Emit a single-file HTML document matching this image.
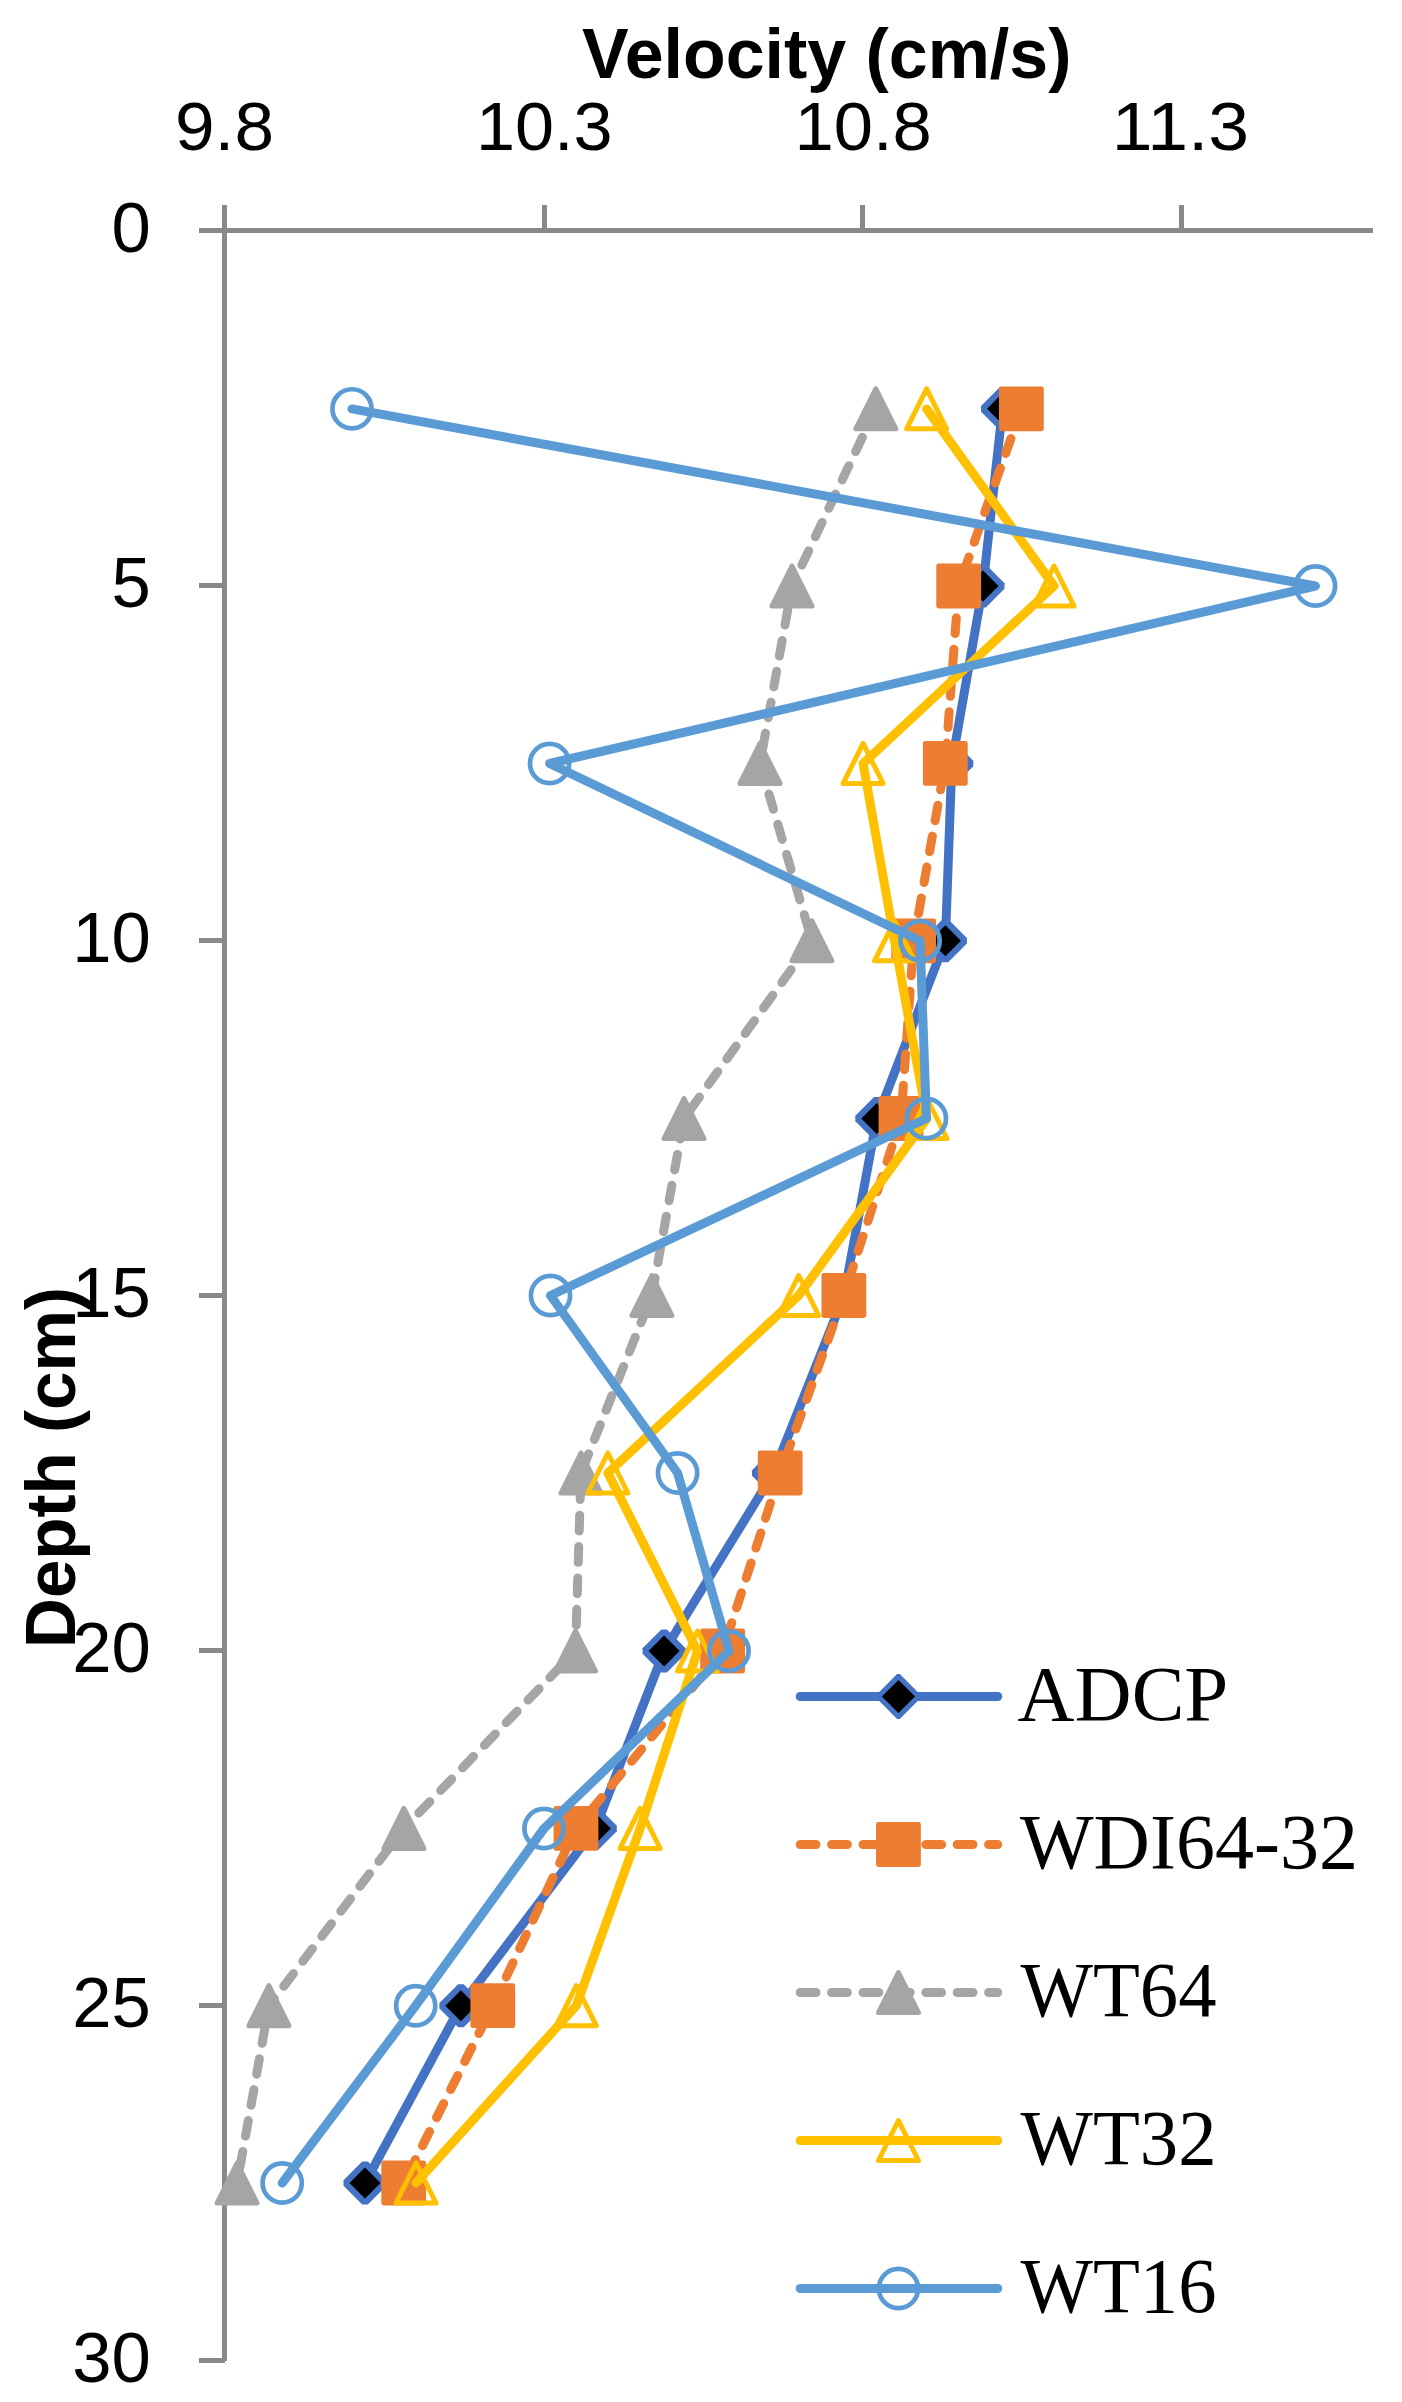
<!DOCTYPE html>
<html lang="en"><head><meta charset="utf-8"><title>Velocity vs Depth</title>
<style>
html,body{margin:0;padding:0;background:#fff}
svg{display:block}
.t{font-family:"Liberation Sans",Arial,sans-serif;fill:#000}
.b{font-family:"Liberation Sans",Arial,sans-serif;font-weight:bold;fill:#000}
.s{font-family:"Liberation Serif","Times New Roman",serif;fill:#000}
</style></head><body>
<svg width="1402" height="2402" viewBox="0 0 1402 2402">
<rect width="1402" height="2402" fill="#fff"/>
<g fill="#898989" shape-rendering="crispEdges">
<rect x="199" y="228" width="1174" height="5"/>
<rect x="222" y="205" width="5" height="2156"/>
<rect x="542" y="205" width="5" height="25"/>
<rect x="860" y="205" width="5" height="25"/>
<rect x="1179" y="205" width="5" height="25"/>
<rect x="199" y="583" width="26" height="5"/>
<rect x="199" y="938" width="26" height="5"/>
<rect x="199" y="1293" width="26" height="5"/>
<rect x="199" y="1648" width="26" height="5"/>
<rect x="199" y="2003" width="26" height="5"/>
<rect x="199" y="2358" width="26" height="5"/>
</g>
<text class="b" x="826.7" y="78" font-size="71" text-anchor="middle" textLength="489.5" lengthAdjust="spacingAndGlyphs">Velocity (cm/s)</text>
<text class="t" x="224.5" y="150" font-size="68.5" text-anchor="middle" textLength="99.0" lengthAdjust="spacingAndGlyphs">9.8</text>
<text class="t" x="544.2" y="150" font-size="68.5" text-anchor="middle" textLength="136.6" lengthAdjust="spacingAndGlyphs">10.3</text>
<text class="t" x="863.2" y="150" font-size="68.5" text-anchor="middle" textLength="137.3" lengthAdjust="spacingAndGlyphs">10.8</text>
<text class="t" x="1180.5" y="150" font-size="68.5" text-anchor="middle" textLength="137.3" lengthAdjust="spacingAndGlyphs">11.3</text>
<text class="t" x="150.8" y="252.4" font-size="70.3" text-anchor="end" textLength="39.3" lengthAdjust="spacingAndGlyphs">0</text>
<text class="t" x="150.8" y="607.4" font-size="70.3" text-anchor="end" textLength="39.3" lengthAdjust="spacingAndGlyphs">5</text>
<text class="t" x="150.8" y="962.4" font-size="70.3" text-anchor="end" textLength="78.6" lengthAdjust="spacingAndGlyphs">10</text>
<text class="t" x="150.8" y="1317.4" font-size="70.3" text-anchor="end" textLength="78.6" lengthAdjust="spacingAndGlyphs">15</text>
<text class="t" x="150.8" y="1672.4" font-size="70.3" text-anchor="end" textLength="78.6" lengthAdjust="spacingAndGlyphs">20</text>
<text class="t" x="150.8" y="2027.4" font-size="70.3" text-anchor="end" textLength="78.6" lengthAdjust="spacingAndGlyphs">25</text>
<text class="t" x="150.8" y="2382.4" font-size="70.3" text-anchor="end" textLength="78.6" lengthAdjust="spacingAndGlyphs">30</text>
<text class="b" transform="translate(75 1467.5) rotate(-90)" font-size="71" text-anchor="middle" textLength="361" lengthAdjust="spacingAndGlyphs">Depth (cm)</text>
<g id="ADCP">
<path d="M1002.5 408.9L983.0 586.0L951.8 763.5L945.4 940.8L876.8 1118.5L844.0 1295.5L773.5 1473.0L664.1 1651.0L595.3 1828.5L460.9 2005.7L365.0 2183.0" fill="none" stroke="#4472C4" stroke-width="9" stroke-linecap="round" stroke-linejoin="round"/>
<polygon points="981.00,406.05 999.70,387.35 1005.30,387.35 1024.00,406.05 1024.00,411.65 1005.30,430.35 999.70,430.35 981.00,411.65" fill="#4472C4"/><path d="M1002.50 393.35L1018.00 408.85L1002.50 424.35L987.00 408.85Z" fill="#000"/>
<polygon points="961.50,583.20 980.20,564.50 985.80,564.50 1004.50,583.20 1004.50,588.80 985.80,607.50 980.20,607.50 961.50,588.80" fill="#4472C4"/><path d="M983.00 570.50L998.50 586.00L983.00 601.50L967.50 586.00Z" fill="#000"/>
<polygon points="930.30,760.65 949.00,741.95 954.60,741.95 973.30,760.65 973.30,766.25 954.60,784.95 949.00,784.95 930.30,766.25" fill="#4472C4"/><path d="M951.80 747.95L967.30 763.45L951.80 778.95L936.30 763.45Z" fill="#000"/>
<polygon points="923.90,938.00 942.60,919.30 948.20,919.30 966.90,938.00 966.90,943.60 948.20,962.30 942.60,962.30 923.90,943.60" fill="#4472C4"/><path d="M945.40 925.30L960.90 940.80L945.40 956.30L929.90 940.80Z" fill="#000"/>
<polygon points="855.30,1115.70 874.00,1097.00 879.60,1097.00 898.30,1115.70 898.30,1121.30 879.60,1140.00 874.00,1140.00 855.30,1121.30" fill="#4472C4"/><path d="M876.80 1103.00L892.30 1118.50L876.80 1134.00L861.30 1118.50Z" fill="#000"/>
<polygon points="822.50,1292.70 841.20,1274.00 846.80,1274.00 865.50,1292.70 865.50,1298.30 846.80,1317.00 841.20,1317.00 822.50,1298.30" fill="#4472C4"/><path d="M844.00 1280.00L859.50 1295.50L844.00 1311.00L828.50 1295.50Z" fill="#000"/>
<polygon points="752.00,1470.20 770.70,1451.50 776.30,1451.50 795.00,1470.20 795.00,1475.80 776.30,1494.50 770.70,1494.50 752.00,1475.80" fill="#4472C4"/><path d="M773.50 1457.50L789.00 1473.00L773.50 1488.50L758.00 1473.00Z" fill="#000"/>
<polygon points="642.60,1648.20 661.30,1629.50 666.90,1629.50 685.60,1648.20 685.60,1653.80 666.90,1672.50 661.30,1672.50 642.60,1653.80" fill="#4472C4"/><path d="M664.10 1635.50L679.60 1651.00L664.10 1666.50L648.60 1651.00Z" fill="#000"/>
<polygon points="573.80,1825.65 592.50,1806.95 598.10,1806.95 616.80,1825.65 616.80,1831.25 598.10,1849.95 592.50,1849.95 573.80,1831.25" fill="#4472C4"/><path d="M595.30 1812.95L610.80 1828.45L595.30 1843.95L579.80 1828.45Z" fill="#000"/>
<polygon points="439.40,2002.90 458.10,1984.20 463.70,1984.20 482.40,2002.90 482.40,2008.50 463.70,2027.20 458.10,2027.20 439.40,2008.50" fill="#4472C4"/><path d="M460.90 1990.20L476.40 2005.70L460.90 2021.20L445.40 2005.70Z" fill="#000"/>
<polygon points="343.50,2180.20 362.20,2161.50 367.80,2161.50 386.50,2180.20 386.50,2185.80 367.80,2204.50 362.20,2204.50 343.50,2185.80" fill="#4472C4"/><path d="M365.00 2167.50L380.50 2183.00L365.00 2198.50L349.50 2183.00Z" fill="#000"/>
</g>
<g id="WDI">
<path d="M1021.4 408.9L958.7 586.0L945.3 763.5L913.7 940.8L901.0 1118.5L843.9 1295.5L780.2 1473.0L722.6 1651.0L576.0 1828.5L492.8 2005.7L403.7 2183.0" fill="none" stroke="#ED7D31" stroke-width="9" stroke-linecap="round" stroke-linejoin="round" stroke-dasharray="15.8 15.6"/>
<rect x="1001.40" y="388.85" width="40.0" height="40.0" fill="#ED7D31" stroke="#ED7D31" stroke-width="4.8" stroke-linejoin="round"/>
<rect x="938.70" y="566.00" width="40.0" height="40.0" fill="#ED7D31" stroke="#ED7D31" stroke-width="4.8" stroke-linejoin="round"/>
<rect x="925.30" y="743.45" width="40.0" height="40.0" fill="#ED7D31" stroke="#ED7D31" stroke-width="4.8" stroke-linejoin="round"/>
<rect x="893.70" y="920.80" width="40.0" height="40.0" fill="#ED7D31" stroke="#ED7D31" stroke-width="4.8" stroke-linejoin="round"/>
<rect x="881.00" y="1098.50" width="40.0" height="40.0" fill="#ED7D31" stroke="#ED7D31" stroke-width="4.8" stroke-linejoin="round"/>
<rect x="823.90" y="1275.50" width="40.0" height="40.0" fill="#ED7D31" stroke="#ED7D31" stroke-width="4.8" stroke-linejoin="round"/>
<rect x="760.20" y="1453.00" width="40.0" height="40.0" fill="#ED7D31" stroke="#ED7D31" stroke-width="4.8" stroke-linejoin="round"/>
<rect x="702.60" y="1631.00" width="40.0" height="40.0" fill="#ED7D31" stroke="#ED7D31" stroke-width="4.8" stroke-linejoin="round"/>
<rect x="556.00" y="1808.45" width="40.0" height="40.0" fill="#ED7D31" stroke="#ED7D31" stroke-width="4.8" stroke-linejoin="round"/>
<rect x="472.80" y="1985.70" width="40.0" height="40.0" fill="#ED7D31" stroke="#ED7D31" stroke-width="4.8" stroke-linejoin="round"/>
<rect x="383.70" y="2163.00" width="40.0" height="40.0" fill="#ED7D31" stroke="#ED7D31" stroke-width="4.8" stroke-linejoin="round"/>
</g>
<g id="WT64">
<path d="M875.8 408.9L792.0 586.0L760.0 763.5L811.9 940.8L684.0 1118.5L651.9 1295.5L581.0 1473.0L575.5 1651.0L403.9 1828.5L268.9 2005.7L237.1 2183.0" fill="none" stroke="#A5A5A5" stroke-width="9" stroke-linecap="round" stroke-linejoin="round" stroke-dasharray="15.8 15.6"/>
<path d="M875.80 388.85L895.80 428.85L855.80 428.85Z" fill="#A5A5A5" stroke="#A5A5A5" stroke-width="5" stroke-linejoin="round"/>
<path d="M792.00 566.00L812.00 606.00L772.00 606.00Z" fill="#A5A5A5" stroke="#A5A5A5" stroke-width="5" stroke-linejoin="round"/>
<path d="M760.00 743.45L780.00 783.45L740.00 783.45Z" fill="#A5A5A5" stroke="#A5A5A5" stroke-width="5" stroke-linejoin="round"/>
<path d="M811.90 920.80L831.90 960.80L791.90 960.80Z" fill="#A5A5A5" stroke="#A5A5A5" stroke-width="5" stroke-linejoin="round"/>
<path d="M684.00 1098.50L704.00 1138.50L664.00 1138.50Z" fill="#A5A5A5" stroke="#A5A5A5" stroke-width="5" stroke-linejoin="round"/>
<path d="M651.90 1275.50L671.90 1315.50L631.90 1315.50Z" fill="#A5A5A5" stroke="#A5A5A5" stroke-width="5" stroke-linejoin="round"/>
<path d="M581.00 1453.00L601.00 1493.00L561.00 1493.00Z" fill="#A5A5A5" stroke="#A5A5A5" stroke-width="5" stroke-linejoin="round"/>
<path d="M575.50 1631.00L595.50 1671.00L555.50 1671.00Z" fill="#A5A5A5" stroke="#A5A5A5" stroke-width="5" stroke-linejoin="round"/>
<path d="M403.90 1808.45L423.90 1848.45L383.90 1848.45Z" fill="#A5A5A5" stroke="#A5A5A5" stroke-width="5" stroke-linejoin="round"/>
<path d="M268.90 1985.70L288.90 2025.70L248.90 2025.70Z" fill="#A5A5A5" stroke="#A5A5A5" stroke-width="5" stroke-linejoin="round"/>
<path d="M237.10 2163.00L257.10 2203.00L217.10 2203.00Z" fill="#A5A5A5" stroke="#A5A5A5" stroke-width="5" stroke-linejoin="round"/>
</g>
<g id="WT32">
<path d="M926.6 408.9L1054.0 586.0L863.1 763.5L894.5 940.8L927.0 1118.5L798.7 1295.5L607.9 1473.0L697.5 1651.0L640.1 1828.5L576.3 2005.7L416.0 2183.0" fill="none" stroke="#FFC000" stroke-width="9" stroke-linecap="round" stroke-linejoin="round"/>
<path d="M926.60 388.85L946.60 428.85L906.60 428.85Z" fill="none" stroke="#FFC000" stroke-width="5" stroke-linejoin="round"/>
<path d="M1054.00 566.00L1074.00 606.00L1034.00 606.00Z" fill="none" stroke="#FFC000" stroke-width="5" stroke-linejoin="round"/>
<path d="M863.10 743.45L883.10 783.45L843.10 783.45Z" fill="none" stroke="#FFC000" stroke-width="5" stroke-linejoin="round"/>
<path d="M894.50 920.80L914.50 960.80L874.50 960.80Z" fill="none" stroke="#FFC000" stroke-width="5" stroke-linejoin="round"/>
<path d="M927.00 1098.50L947.00 1138.50L907.00 1138.50Z" fill="none" stroke="#FFC000" stroke-width="5" stroke-linejoin="round"/>
<path d="M798.70 1275.50L818.70 1315.50L778.70 1315.50Z" fill="none" stroke="#FFC000" stroke-width="5" stroke-linejoin="round"/>
<path d="M607.90 1453.00L627.90 1493.00L587.90 1493.00Z" fill="none" stroke="#FFC000" stroke-width="5" stroke-linejoin="round"/>
<path d="M697.50 1631.00L717.50 1671.00L677.50 1671.00Z" fill="none" stroke="#FFC000" stroke-width="5" stroke-linejoin="round"/>
<path d="M640.10 1808.45L660.10 1848.45L620.10 1848.45Z" fill="none" stroke="#FFC000" stroke-width="5" stroke-linejoin="round"/>
<path d="M576.30 1985.70L596.30 2025.70L556.30 2025.70Z" fill="none" stroke="#FFC000" stroke-width="5" stroke-linejoin="round"/>
<path d="M416.00 2163.00L436.00 2203.00L396.00 2203.00Z" fill="none" stroke="#FFC000" stroke-width="5" stroke-linejoin="round"/>
</g>
<g id="WT16">
<path d="M352.0 408.9L1315.5 586.0L549.6 763.5L920.1 940.8L926.4 1118.5L550.5 1295.5L677.6 1473.0L729.0 1651.0L544.0 1828.5L415.7 2005.7L282.2 2183.0" fill="none" stroke="#5B9BD5" stroke-width="9" stroke-linecap="round" stroke-linejoin="round"/>
<circle cx="352.00" cy="408.85" r="19.6" fill="none" stroke="#5B9BD5" stroke-width="4.7"/>
<circle cx="1315.50" cy="586.00" r="19.6" fill="none" stroke="#5B9BD5" stroke-width="4.7"/>
<circle cx="549.60" cy="763.45" r="19.6" fill="none" stroke="#5B9BD5" stroke-width="4.7"/>
<circle cx="920.10" cy="940.80" r="19.6" fill="none" stroke="#5B9BD5" stroke-width="4.7"/>
<circle cx="926.40" cy="1118.50" r="19.6" fill="none" stroke="#5B9BD5" stroke-width="4.7"/>
<circle cx="550.50" cy="1295.50" r="19.6" fill="none" stroke="#5B9BD5" stroke-width="4.7"/>
<circle cx="677.60" cy="1473.00" r="19.6" fill="none" stroke="#5B9BD5" stroke-width="4.7"/>
<circle cx="729.00" cy="1651.00" r="19.6" fill="none" stroke="#5B9BD5" stroke-width="4.7"/>
<circle cx="544.00" cy="1828.45" r="19.6" fill="none" stroke="#5B9BD5" stroke-width="4.7"/>
<circle cx="415.70" cy="2005.70" r="19.6" fill="none" stroke="#5B9BD5" stroke-width="4.7"/>
<circle cx="282.20" cy="2183.00" r="19.6" fill="none" stroke="#5B9BD5" stroke-width="4.7"/>
</g>
<path d="M800.2 1696.5L997.7 1696.5" fill="none" stroke="#4472C4" stroke-width="9" stroke-linecap="round" stroke-linejoin="round"/>
<polygon points="876.00,1695.15 897.10,1674.05 899.80,1674.05 920.90,1695.15 920.90,1697.85 899.80,1718.95 897.10,1718.95 876.00,1697.85" fill="#4472C4"/><path d="M898.45 1679.95L915.00 1696.50L898.45 1713.05L881.90 1696.50Z" fill="#000"/>
<text class="s" x="1017.5" y="1720.2" font-size="78" textLength="210.8" lengthAdjust="spacingAndGlyphs">ADCP</text>
<path d="M800.2 1844.5L997.7 1844.5" fill="none" stroke="#ED7D31" stroke-width="9" stroke-linecap="round" stroke-linejoin="round" stroke-dasharray="15.8 15.6"/>
<rect x="878.45" y="1824.50" width="40.0" height="40.0" fill="#ED7D31" stroke="#ED7D31" stroke-width="4.8" stroke-linejoin="round"/>
<text class="s" x="1020" y="1868.2" font-size="78">WDI64-32</text>
<path d="M800.2 1992.5L997.7 1992.5" fill="none" stroke="#A5A5A5" stroke-width="9" stroke-linecap="round" stroke-linejoin="round" stroke-dasharray="15.8 15.6"/>
<path d="M898.45 1972.50L918.45 2012.50L878.45 2012.50Z" fill="#A5A5A5" stroke="#A5A5A5" stroke-width="5" stroke-linejoin="round"/>
<text class="s" x="1020.6" y="2016.2" font-size="78" textLength="196.0" lengthAdjust="spacingAndGlyphs">WT64</text>
<path d="M800.2 2140.5L997.7 2140.5" fill="none" stroke="#FFC000" stroke-width="9" stroke-linecap="round" stroke-linejoin="round"/>
<path d="M898.45 2120.50L918.45 2160.50L878.45 2160.50Z" fill="none" stroke="#FFC000" stroke-width="5" stroke-linejoin="round"/>
<text class="s" x="1020.6" y="2164.2" font-size="78" textLength="196.0" lengthAdjust="spacingAndGlyphs">WT32</text>
<path d="M800.2 2288.5L997.7 2288.5" fill="none" stroke="#5B9BD5" stroke-width="9" stroke-linecap="round" stroke-linejoin="round"/>
<circle cx="898.45" cy="2288.50" r="19.6" fill="none" stroke="#5B9BD5" stroke-width="4.7"/>
<text class="s" x="1020.6" y="2312.2" font-size="78" textLength="196.0" lengthAdjust="spacingAndGlyphs">WT16</text>
</svg></body></html>
